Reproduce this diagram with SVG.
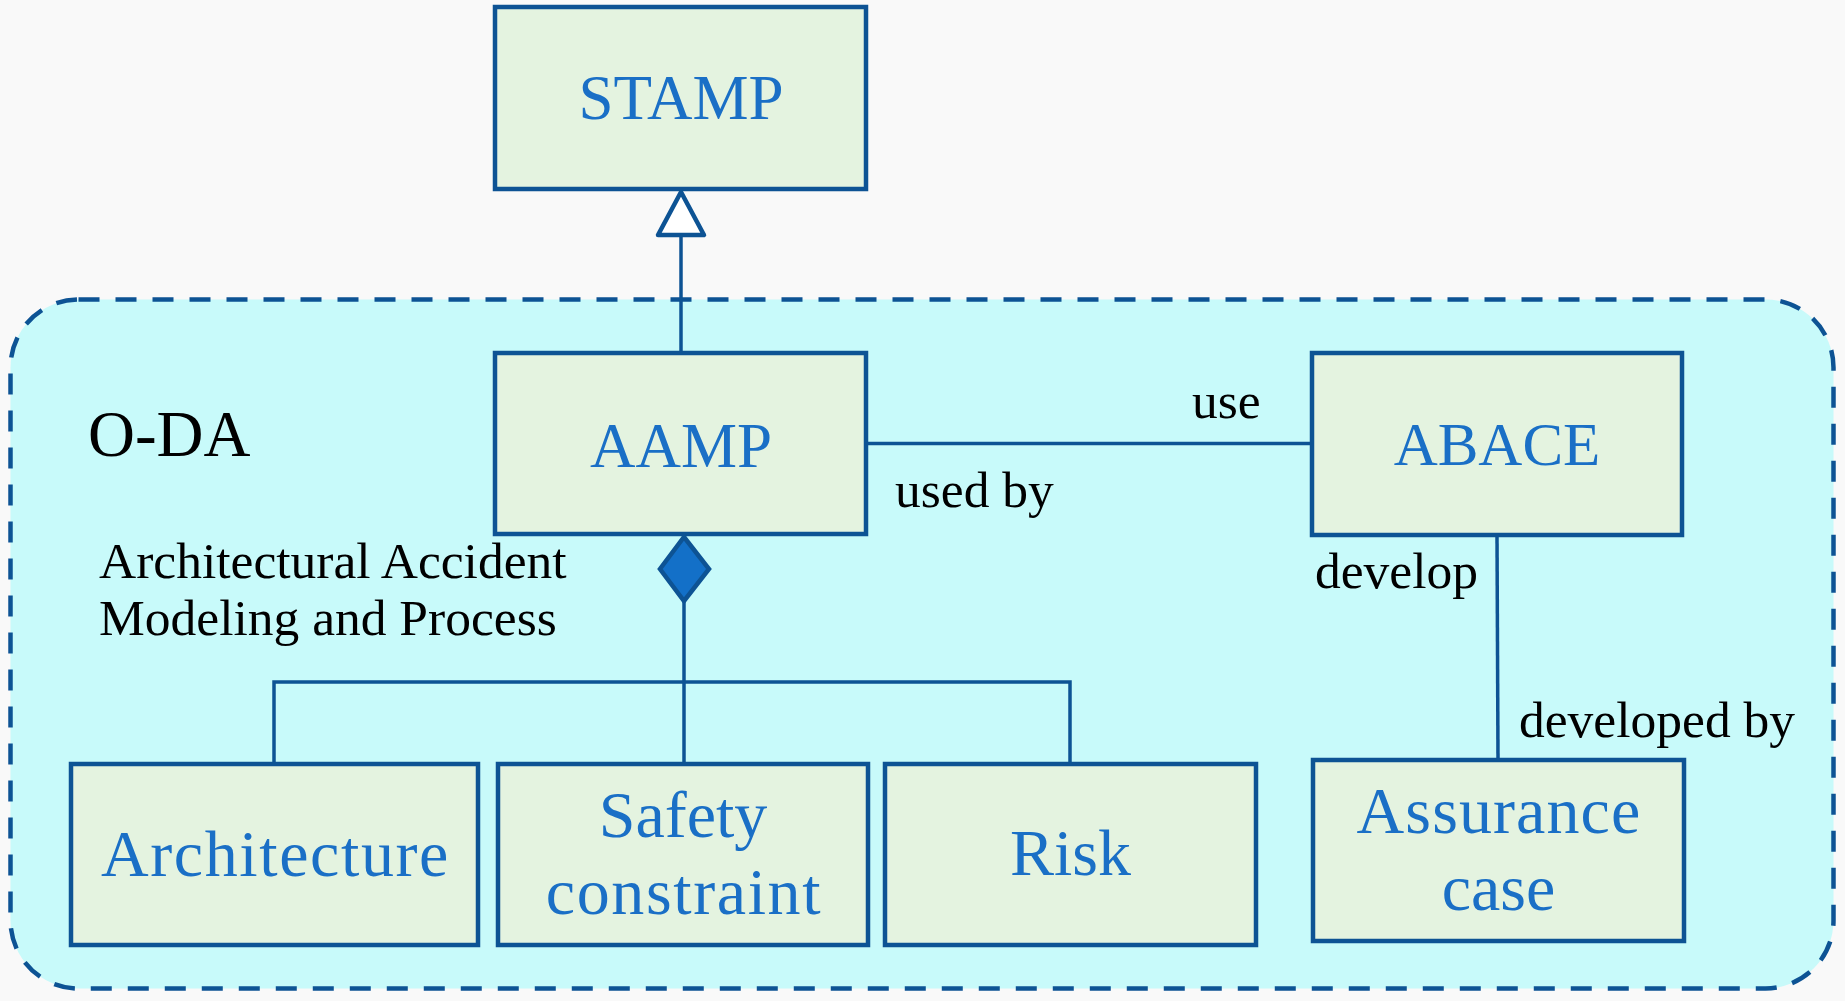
<svg xmlns="http://www.w3.org/2000/svg" width="1845" height="1001" viewBox="0 0 1845 1001">
  <style>
    .box { fill: #E4F3E0; stroke: #0D5394; stroke-width: 4.5; }
    .lbl { font-family: "Liberation Serif", "Times New Roman", serif; font-size: 63px; fill: #1A6FC6; text-anchor: middle; }
    .big { font-size: 66px; }
    .wide { letter-spacing: 1.6px; }
    .note { font-family: "Liberation Serif", "Times New Roman", serif; font-size: 51.5px; fill: #000; }
    .title { font-size: 65px; }
    .wire { fill: none; stroke: #0D5394; stroke-width: 3.5; }
  </style>

  <!-- page background -->
  <rect x="0" y="0" width="1845" height="1001" fill="#F9F9F9"/>

  <!-- O-DA package boundary -->
  <g id="oda">
    <rect x="10.5" y="299.5" width="1823" height="689" rx="68" ry="68" fill="#C8FAFA" stroke="#0D5394" stroke-width="4.5" stroke-dasharray="21 16"/>
    <text class="note title" x="88" y="456">O-DA</text>
    <text class="note" x="99" y="578">Architectural Accident</text>
    <text class="note" x="99" y="635">Modeling and Process</text>
  </g>

  <!-- connectors -->
  <g id="connectors">
    <!-- generalisation AAMP -> STAMP -->
    <line class="wire" x1="681" y1="235" x2="681" y2="353"/>
    <polygon points="681,192 704,235 658,235" fill="#FFFFFF" stroke="#0D5394" stroke-width="4.5" stroke-linejoin="round"/>
    <!-- AAMP - ABACE association -->
    <line class="wire" x1="866" y1="443.5" x2="1312" y2="443.5"/>
    <!-- composition AAMP -> parts -->
    <polygon points="684,537 709,569 684,601 660,569" fill="#1370C8" stroke="#0D5394" stroke-width="4.5" stroke-linejoin="miter"/>
    <line class="wire" x1="684" y1="601" x2="684" y2="682"/>
    <polyline class="wire" points="274,764 274,682 1070,682 1070,764"/>
    <line class="wire" x1="684" y1="682" x2="684" y2="764"/>
    <!-- ABACE - Assurance case -->
    <line class="wire" x1="1497" y1="536" x2="1498" y2="760"/>
    <!-- association labels -->
    <text class="note" x="1192" y="418">use</text>
    <text class="note" x="895" y="507">used by</text>
    <text class="note" x="1315" y="588">develop</text>
    <text class="note" x="1519" y="737">developed by</text>
  </g>

  <g id="stamp">
    <rect class="box" x="495" y="7" width="371" height="182"/>
    <text class="lbl" x="681" y="119">STAMP</text>
  </g>

  <g id="aamp">
    <rect class="box" x="495" y="353" width="371" height="181"/>
    <text class="lbl" x="681" y="467">AAMP</text>
  </g>

  <g id="abace">
    <rect class="box" x="1312" y="353" width="370" height="182"/>
    <text class="lbl" x="1497" y="465" style="font-size:61px">ABACE</text>
  </g>

  <g id="architecture">
    <rect class="box" x="71" y="764" width="407" height="181"/>
    <text class="lbl big wide" x="275.5" y="876">Architecture</text>
  </g>

  <g id="safety-constraint">
    <rect class="box" x="498" y="764" width="370" height="181"/>
    <text class="lbl big" x="683" y="837">Safety</text>
    <text class="lbl big wide" x="684" y="914">constraint</text>
  </g>

  <g id="risk">
    <rect class="box" x="885" y="764" width="371" height="181"/>
    <text class="lbl big" x="1070.5" y="875">Risk</text>
  </g>

  <g id="assurance-case">
    <rect class="box" x="1313" y="760" width="371" height="181"/>
    <text class="lbl big" x="1499" y="833" style="letter-spacing:1.1px">Assurance</text>
    <text class="lbl big" x="1498.5" y="910">case</text>
  </g>
</svg>
